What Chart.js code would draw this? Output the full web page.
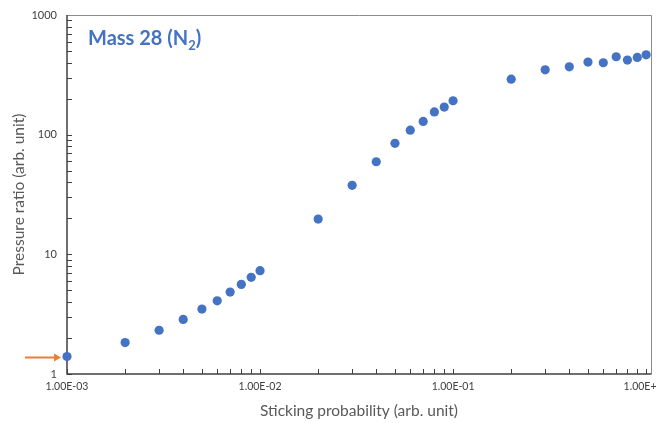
<!DOCTYPE html>
<html>
<head>
<meta charset="utf-8">
<script src="https://cdn.jsdelivr.net/npm/chart.js@4/dist/chart.umd.min.js"></script>
<style>
  html, body { margin: 0; padding: 0; background: #fff; }
  #wrap { width: 656px; height: 423px; position: relative; }
</style>
</head>
<body>
<div id="wrap"><canvas id="chart"></canvas></div>
<script>
// Sticking probability vs pressure ratio, Mass 28 (N2)
const stickingProb = [
  0.001, 0.002, 0.003, 0.004, 0.005, 0.006, 0.007, 0.008, 0.009, 0.01,
  0.02, 0.03, 0.04, 0.05, 0.06, 0.07, 0.08, 0.09, 0.1,
  0.2, 0.3, 0.4, 0.5, 0.6, 0.7, 0.8, 0.9, 1.0
];
const pressureRatio = [
  1.40, 1.83, 2.32, 2.86, 3.49, 4.09, 4.84, 5.61, 6.43, 7.30,
  19.7, 37.7, 59.4, 84.6, 109, 129, 155, 170, 192,
  291, 348, 369, 404, 399, 448, 420, 442, 465
];
const xTicks = [0.001, 0.01, 0.1, 1];
const yTicks = [1, 10, 100, 1000];

const BLUE = '#4472C4';
const FONT = 'Lato, "Open Sans", sans-serif';

function sciLabel(v) {
  const parts = v.toExponential(2).toUpperCase().split('E');
  let exp = parseInt(parts[1], 10);
  const sign = exp < 0 ? '-' : '+';
  exp = Math.abs(exp);
  return parts[0] + 'E' + sign + (exp < 10 ? '0' + exp : exp);
}

// frame, inside ticks, title and arrow
const decorPlugin = {
  id: 'decor',
  beforeDatasetsDraw(chart) {
    const ctx = chart.ctx;
    const a = chart.chartArea;
    const xs = chart.scales.x, ys = chart.scales.y;
    ctx.save();

    // frame
    ctx.strokeStyle = '#8c8c8c';
    ctx.lineWidth = 1;
    ctx.beginPath();
    ctx.moveTo(a.left, a.top + 0.5);
    ctx.lineTo(a.right + 0.5, a.top + 0.5);
    ctx.lineTo(a.right + 0.5, a.bottom);
    ctx.stroke();
    ctx.strokeStyle = '#404040';
    ctx.lineWidth = 1.5;
    ctx.beginPath();
    ctx.moveTo(a.left, a.top);
    ctx.lineTo(a.left, a.bottom);
    ctx.lineTo(a.right + 0.5, a.bottom);
    ctx.stroke();

    // ticks inside the plot
    ctx.lineWidth = 1;
    ctx.beginPath();
    [0.001, 0.01, 0.1].forEach(d => {
      for (let k = 1; k <= 9; k++) {
        const px = Math.round(xs.getPixelForValue(d * k)) + 0.5;
        ctx.moveTo(px, a.bottom);
        ctx.lineTo(px, a.bottom - 5);
      }
    });
    const pxEnd = Math.round(xs.getPixelForValue(1)) + 0.5;
    ctx.moveTo(pxEnd, a.bottom);
    ctx.lineTo(pxEnd, a.bottom - 5);
    [1, 10, 100].forEach(d => {
      for (let k = 1; k <= 9; k++) {
        const py = Math.round(ys.getPixelForValue(d * k)) + 0.5;
        ctx.moveTo(a.left, py);
        ctx.lineTo(a.left + 5, py);
      }
    });
    ctx.stroke();

    // title inside plot
    ctx.fillStyle = BLUE;
    ctx.textBaseline = 'alphabetic';
    ctx.textAlign = 'left';
    ctx.font = 'bold 20px ' + FONT;
    let tx = a.left + 21;
    const ty = a.top + 30;
    const t1 = 'Mass 28 (N';
    ctx.fillText(t1, tx, ty);
    tx += ctx.measureText(t1).width;
    ctx.font = 'bold 13px ' + FONT;
    ctx.fillText('2', tx, ty + 5);
    tx += ctx.measureText('2').width;
    ctx.font = 'bold 20px ' + FONT;
    ctx.fillText(')', tx, ty);

    // orange arrow pointing at the first point
    const p0x = xs.getPixelForValue(stickingProb[0]);
    const p0y = Math.round(ys.getPixelForValue(pressureRatio[0])) + 0.5;
    ctx.strokeStyle = '#ED7D31';
    ctx.fillStyle = '#ED7D31';
    ctx.lineWidth = 2;
    ctx.beginPath();
    ctx.moveTo(p0x - 42, p0y);
    ctx.lineTo(p0x - 12, p0y);
    ctx.stroke();
    ctx.beginPath();
    ctx.moveTo(p0x - 6, p0y);
    ctx.lineTo(p0x - 13, p0y - 4);
    ctx.lineTo(p0x - 13, p0y + 4);
    ctx.closePath();
    ctx.fill();

    ctx.restore();
  }
};

const ctx = document.getElementById('chart').getContext('2d');
new Chart(ctx, {
  type: 'scatter',
  data: {
    datasets: [{
      label: 'Mass 28',
      data: stickingProb.map((x, i) => ({ x: x, y: pressureRatio[i] })),
      backgroundColor: BLUE,
      borderColor: BLUE,
      pointRadius: 4.6,
      pointBorderWidth: 0,
      clip: false
    }]
  },
  options: {
    responsive: true,
    maintainAspectRatio: false,
    animation: false,
    layout: { padding: { left: 0, right: 5, top: 15, bottom: 0 } },
    plugins: {
      legend: { display: false },
      tooltip: { enabled: false }
    },
    scales: {
      x: {
        type: 'logarithmic',
        min: 0.001,
        max: 1.06,
        border: { display: false },
        grid: { display: false, drawTicks: false },
        afterBuildTicks: s => { s.ticks = xTicks.map(v => ({ value: v })); },
        afterFit: s => { s.height = 49; s.paddingLeft = 0; s.paddingRight = 0; },
        ticks: {
          autoSkip: false,
          maxRotation: 0,
          padding: 6,
          color: '#404040',
          font: { size: 10.5, family: FONT },
          callback: v => sciLabel(v)
        },
        title: {
          display: true,
          text: 'Sticking probability (arb. unit)',
          color: '#595959',
          font: { size: 15.5, family: FONT },
          padding: { top: 0, bottom: 3 }
        }
      },
      y: {
        type: 'logarithmic',
        min: 1,
        max: 1000,
        border: { display: false },
        grid: { display: false, drawTicks: false },
        afterBuildTicks: s => { s.ticks = yTicks.map(v => ({ value: v })); },
        afterFit: s => { s.width = 67; s.paddingTop = 0; s.paddingBottom = 0; },
        ticks: {
          autoSkip: false,
          padding: 10,
          color: '#404040',
          font: { size: 11, family: FONT },
          callback: v => String(v)
        },
        title: {
          display: true,
          text: 'Pressure ratio (arb. unit)',
          color: '#595959',
          font: { size: 15.5, family: FONT },
          padding: { top: 10, bottom: 0 }
        }
      }
    }
  },
  plugins: [decorPlugin]
});
</script>
</body>
</html>
